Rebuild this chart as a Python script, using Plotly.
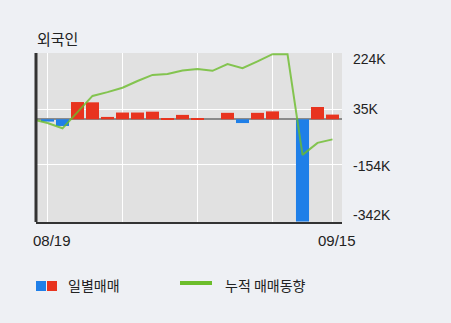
import plotly.graph_objects as go

# ---- data ----
dates = ["08/19", "08/20", "08/21", "08/24", "08/25", "08/26", "08/27", "08/28",
         "08/31", "09/01", "09/02", "09/03", "09/04", "09/07", "09/08", "09/09",
         "09/10", "09/11", "09/14", "09/15"]
daily = [-8000, -23000, 59000, 58000, 8000, 23000, 23000, 26000, 4000, 15000,
         4000, 0, 22000, -13000, 22000, 27000, 0, -350000, 42000, 16000]
# cumulative line; first value is the prior session (08/18), drawn just off the left edge
cum_prev = 0
cumulative = [-13000, -31000, 25000, 80000, 93000, 108000, 131000, 152000, 155000, 167000,
              172000, 166000, 189000, 175000, 198000, 223000, 223000, -122000, -81000, -69000]
ytick_vals = [224000, 35000, -154000, -342000]
ytick_text = ["224K", "35K", "-154K", "-342K"]
xtick_idx = [0, 5, 10, 15, 19]

# ---- geometry helpers ----
W, H = 451, 323
L, R, T, B = 36, 342, 53, 222
def px(x):
    return (x - L) / (R - L)
def py(y):
    return (B - y) / (B - T)

RED = "#e8341f"
BLUE = "#1f7fe8"
GREEN = "#6cbd2b"

idx = list(range(len(dates)))
colors = [RED if v >= 0 else BLUE for v in daily]

fig = go.Figure()
fig.add_trace(go.Bar(x=idx, y=daily, marker=dict(color=colors, line=dict(width=0)),
                     width=0.87, showlegend=False, hoverinfo="skip"))
fig.add_trace(go.Scatter(x=[-1] + idx, y=[cum_prev] + cumulative, mode="lines",
                         line=dict(color=GREEN, width=2), opacity=0.8,
                         showlegend=False, hoverinfo="skip"))

fig.update_layout(
    width=W, height=H,
    margin=dict(l=L, r=W - R, t=T, b=H - B),
    paper_bgcolor="#eef0f4",
    plot_bgcolor="#e1e1e1",
    showlegend=False,
    bargap=0.13,
    font=dict(family="Liberation Sans, Arial, sans-serif", size=14, color="#222"),
)
fig.update_xaxes(
    range=[-0.767, 19.633],
    tickvals=xtick_idx,
    ticktext=["", "", "", "", ""],
    showgrid=True, gridcolor="#ffffff", gridwidth=1,
    zeroline=False,
    showline=True, linecolor="#333333", linewidth=2,
    ticks="",
)
fig.update_yaxes(
    range=[-352000, 227000],
    tickvals=ytick_vals[:3],
    showticklabels=False,
    showgrid=True, gridcolor="#ffffff", gridwidth=1,
    zeroline=True, zerolinecolor="#8a8a8a", zerolinewidth=2,
    showline=False,
)
# left dark axis line
fig.add_shape(type="line", xref="paper", yref="paper", x0=0, x1=0, y0=0, y1=1,
              line=dict(color="#333333", width=3))

# x tick labels (first and last date)
for i in (0, len(dates) - 1):
    fig.add_annotation(x=i, xref="x", y=py(241), yref="paper", text=dates[i],
                       showarrow=False, xanchor="center", yanchor="middle", xshift=4,
                       font=dict(size=15, color="#222"))

# y tick labels on the right
shifts = [-5, 0, -2, 4]
for v, t, s in zip(ytick_vals, ytick_text, shifts):
    fig.add_annotation(x=1, xref="paper", y=v, yref="y", text=t, showarrow=False,
                       xanchor="left", yanchor="middle", xshift=9, yshift=s,
                       font=dict(size=14, color="#222"))

# title
fig.add_annotation(x=0, xref="paper", y=py(38), yref="paper", text="외국인",
                   showarrow=False, xanchor="left", yanchor="middle", xshift=-1,
                   font=dict(family="Noto Sans CJK KR", size=15, color="#222"))

# custom legend
fig.add_shape(type="rect", xref="paper", yref="paper", x0=px(36), x1=px(46),
              y0=py(291), y1=py(281), fillcolor=BLUE, line=dict(width=0))
fig.add_shape(type="rect", xref="paper", yref="paper", x0=px(47), x1=px(57),
              y0=py(291), y1=py(281), fillcolor=RED, line=dict(width=0))
fig.add_annotation(x=px(66), xref="paper", y=py(285), yref="paper", text="일별매매",
                   showarrow=False, xanchor="left", yanchor="middle",
                   font=dict(family="Noto Sans CJK KR", size=14, color="#222"))
fig.add_shape(type="line", xref="paper", yref="paper", x0=px(180), x1=px(212),
              y0=py(283), y1=py(283), line=dict(color=GREEN, width=4))
fig.add_annotation(x=px(223), xref="paper", y=py(285), yref="paper", text="누적 매매동향",
                   showarrow=False, xanchor="left", yanchor="middle",
                   font=dict(family="Noto Sans CJK KR", size=14, color="#222"))

fig.write_html("out.html")
